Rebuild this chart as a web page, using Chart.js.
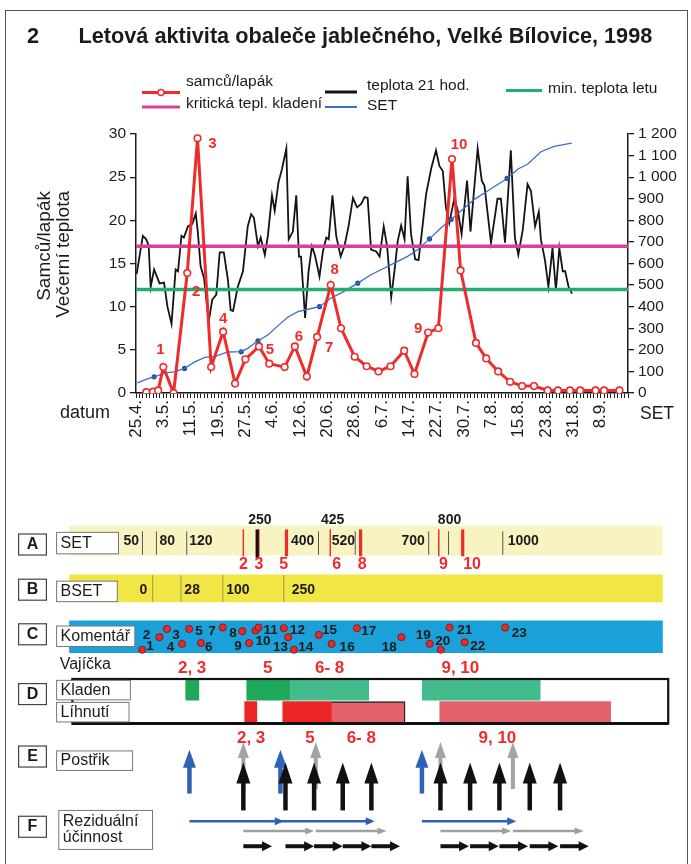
<!DOCTYPE html>
<html lang="cs">
<head>
<meta charset="utf-8">
<title>Letová aktivita obaleče jablečného, Velké Bílovice, 1998</title>
<script src="https://cdn.jsdelivr.net/npm/chart.js@4.4.1/dist/chart.umd.min.js"></script>
<style>
  html, body { margin: 0; padding: 0; background: #fff; }
  body { position: relative; width: 691px; height: 864px; overflow: hidden; }
  canvas { position: absolute; left: 0; }
  #flight { top: 0; }
  #diagram { top: 470px; }
  .frame { position: absolute; left: 5px; top: 10px; width: 683px; height: 900px; border: 1.5px solid #555; box-sizing: border-box; pointer-events: none; }
</style>
</head>
<body>
<div class="frame"></div>
<canvas id="flight" width="691" height="470"></canvas>
<canvas id="diagram" width="691" height="394"></canvas>
<script>
// ---------- top chart data (days counted from 25.4.) ----------
const figureNo = '2';
const titleText = 'Letová aktivita obaleče jablečného, Velké Bílovice, 1998';
const xAxisName = 'datum';
const yAxisNames = ['Samců/lapák', 'Večerní teplota'];
const y2AxisName = 'SET';

const dateLabels = ['25.4.', '3.5.', '11.5.', '19.5.', '27.5.', '4.6.', '12.6.', '20.6.', '28.6.',
  '6.7.', '14.7.', '22.7.', '30.7.', '7.8.', '15.8.', '23.8.', '31.8.', '8.9.'];
const dateStep = 8;
const dayMax = 144;

// samců/lapák
const trapDays = [3, 5, 6.5, 8, 11, 15, 18, 22, 25.5, 29, 32, 36, 39, 43.5, 46.5, 50, 53, 57, 60, 64,
  67.5, 71, 74.5, 78.5, 81.5, 85.5, 88.5, 92.5, 95, 99.5, 102.5, 106, 109.5, 113, 116.5, 120.5, 123.5, 127, 130, 134.5,
  137, 141.5];
const trapMales = [0.1, 0.15, 0.3, 3.0, 0, 13.9, 29.5, 3.0, 7.1, 1.1, 3.9, 5.4, 3.4, 3.0, 5.4, 1.9, 6.5, 12.5, 7.5, 4.2,
  3.1, 2.5, 3.1, 4.9, 2.2, 7.0, 7.5, 27.1, 14.2, 5.8, 4.0, 2.5, 1.3, 0.8, 0.8, 0.3, 0.3, 0.3, 0.3, 0.3,
  0.3, 0.3];
const peakLabels = ['1', '2', '3', '4', '5', '6', '7', '8', '9', '10'];
const peakIndex = [3, 5, 6, 8, 11, 14, 16, 17, 25, 27];

// teplota 21 hod.
const tempDays = [0.2, 2, 3, 3.7, 4.3, 5.3, 6.2, 6.9, 8.2, 9.2,
  10.4, 11.6, 12.3, 13.3, 14, 15.2, 16.5, 17.5, 18.1, 18.9,
  19.9, 21.3, 22.3, 23.5, 24.5, 25.7, 26.9, 27.7, 28.4, 29.8,
  31.3, 32.7, 33.7, 34.5, 35.7, 36.5, 37.7, 38.6, 39.8, 40.6,
  41.7, 42.7, 44, 44.7, 45.9, 46.9, 47.7, 48.3, 49.5, 50.5,
  51.5, 52.4, 53.7, 54.7, 55.7, 56.4, 57.5, 58.6, 59.9, 61,
  62.2, 63.5, 64.7, 65.9, 66.9, 67.8, 68.8, 70.3, 71.3, 72.5,
  73.5, 74.7, 75.7, 76.6, 77.6, 78.6, 79.5, 80.5, 81.7, 82.7,
  83.6, 84.9, 86.4, 87.8, 88.8, 89.8, 90.7, 91.7, 93.2, 94.2,
  95.3, 96.9, 97.9, 100, 101.2, 102, 103.9, 105.8, 106.8, 108,
  109.7, 110.9, 111.9, 113.2, 114.6, 115.6, 116.8, 117.9, 118.5, 119.7,
  120.7, 121.9, 122.9, 123.9, 124.9, 125.6, 126.6, 127.6];
const tempValues = [13.8, 18.2, 17.8, 17.1, 12.3, 14.3, 13.4, 12.7, 12.8, 10.0,
  8.0, 14.3, 14.1, 18.2, 18.0, 19.3, 19.6, 20.8, 18.6, 14.7,
  13.3, 8.3, 10.8, 11.4, 16.3, 16.3, 13.1, 9.6, 9.5, 12.3,
  14.1, 19.3, 20.7, 20.3, 17.0, 18.0, 16.0, 18.2, 22.9, 21.1,
  24.4, 25.9, 28.3, 17.8, 18.7, 22.9, 15.8, 15.8, 8.7, 14.1,
  17.0, 15.9, 13.5, 16.4, 18.0, 17.8, 22.9, 18.2, 15.8, 17.0,
  19.3, 22.6, 21.5, 21.9, 22.7, 22.6, 16.6, 16.4, 15.8, 19.3,
  17.0, 11.1, 14.3, 17.6, 19.4, 17.8, 25.1, 18.4, 15.5, 15.4,
  18.4, 23.0, 26.0, 28.1, 26.3, 25.7, 21.5, 19.7, 22.6, 21.1,
  18.4, 24.6, 18.7, 28.3, 24.6, 24.0, 17.4, 22.5, 22.5, 17.4,
  28.1, 18.0, 16.0, 18.9, 24.2, 23.4, 19.3, 21.0, 17.8, 15.4,
  12.3, 16.8, 11.9, 16.8, 14.1, 14.1, 12.3, 11.5];

// SET (right axis)
const setDays = [0.4, 3.5, 5.5, 8.4, 11.3, 14.2, 17.2, 20.1, 23.2, 26.9,
  30.8, 32.7, 35.7, 38.6, 41.5, 44.4, 47.4, 50.3, 53.7, 57.1,
  60.0, 64.9, 68.8, 71.7, 75.6, 79.5, 82.5, 85.9, 89.3, 92.2,
  95.1, 99.0, 102.9, 108.6, 111.7, 114.6, 118.5, 122.4, 127.5];
const setValues = [47, 67, 75, 93, 98, 114, 144, 165, 170, 190,
  192, 207, 242, 269, 311, 351, 377, 388, 400, 440,
  463, 509, 548, 571, 602, 633, 665, 714, 766, 804,
  843, 897, 936, 994, 1037, 1060, 1118, 1143, 1158];
const setDotDays = [5.3, 14.2, 30.8, 35.7, 53.7, 64.9, 85.9, 92.2, 108.6];
const setDotValues = [75, 114, 191, 242, 400, 509, 714, 804, 994];

const critTemp = 17;
const minFlightTemp = 12;

// ---------- bottom diagram data (same day axis) ----------
const setBarValues = ['50', '80', '120', '400', '520', '700', '1000'];
const setBarValueDays = [-2.3, 8.4, 18.4, 48.6, 60.7, 81.4, 114.1];
const setBarMarks = ['250', '425', '800'];
const setBarMarkDays = [35.9, 57.5, 92.2];
const setBarDividers = [1.05, 5.2, 14.2, 53.3, 64.2, 86.0, 91.9, 108.0];
const set250Day = 35.1;
const generations = ['2', '3', '5', '6', '8', '9', '10'];
const generationDays = [31.0, 35.6, 43.8, 56.8, 65.8, 89.0, 96.1];
const generationBold = [false, false, true, false, true, false, true];
const generationLabelDays = [31.0, 35.6, 43.0, 58.7, 66.3, 90.4, 98.9];

const bsetValues = ['0', '28', '100', '250'];
const bsetValueDays = [1.35, 15.8, 29.4, 48.8];
const bsetDividers = [4.1, 12.5, 24.9, 43.0];

const noteDays = [0.97, 6.1, 8.3, 12.8, 14.9, 18.4, 24.9, 30.7, 32.7, 34.6, 35.5, 43.0, 44.3, 46.0, 53.4, 57.2,
  64.7, 77.9, 86.3, 89.6, 92.2, 96.7, 108.7];
const noteLanes = [3, 1.3, 0.2, 2.2, 0.2, 2.1, 0, 0.5, 2.1, 0.4, 0, 0.1, 1.3, 3, 1, 2.2, 0.1, 1.3, 2.2, 3, 0, 2, 0];
const noteLabelDays = [3.3, 2.25, 11.0, 9.4, 17.8, 20.7, 21.7, 27.9, 29.4, 36.8, 39.1, 47.1, 42.0, 49.5, 56.6, 61.8,
  68.2, 74.3, 84.4, 90.2, 96.7, 100.6, 112.9];
const noteLabelLanes = [2.6, 1, 1, 2.65, 0.55, 2.7, 0.45, 0.8, 2.55, 1.85, 0.35, 0.35, 2.65, 2.65, 0.35, 2.7,
  0.55, 2.65, 1, 1.85, 0.35, 2.5, 0.8];

const eggGroups = ['2, 3', '5', '6- 8', '9, 10'];
const layingStart = [13.9, 32.0, 44.9, 84.1];
const layingEnd = [17.8, 44.9, 68.2, 119.1];
const layingLabelDays = [15.8, 38.2, 56.6, 95.4];
const hatchStart = [31.4, 42.7, 57.2, 89.3];
const hatchEnd = [35.0, 57.2, 79.0, 140.0];
const hatchLabelDays = [33.3, 50.8, 66.0, 106.4];

const sprayBlueDays = [15, 42, 84];
const sprayGrayDays = [31, 52.5, 89.5, 111];
const sprayBlackDays = [31, 43.5, 52, 60.5, 69, 89.5, 98.3, 107, 116, 125];
const residualDays = { blue: 28, gray: 21, black: 8.5 };

// ---------- styles ----------
const FONT = '"Liberation Sans", Arial, Helvetica, sans-serif';
const INK = '#1b1b1b';
const RED = '#ee2c2c';
const MAGENTA = '#d8409a';
const GREEN = '#22ad72';
const BLUE = '#3a70c4';
const BLUE_DOT = '#234f9e';

Chart.defaults.font.family = FONT;
Chart.defaults.color = INK;

const pts = (xs, ys) => xs.map((x, i) => ({ x, y: ys[i] }));
const spaced = v => String(v).replace(/\B(?=(\d{3})+(?!\d))/g, ' ');

function line(ctx, x0, y0, x1, y1) {
  ctx.beginPath();
  ctx.moveTo(x0, y0);
  ctx.lineTo(x1, y1);
  ctx.stroke();
}

// legend placement (two rows, three columns like the original)
const legendLayout = [
  { ds: 0, x: 142, y: 92.5, len: 38, w: 3, tx: 186, ty: 82, marker: true },
  { ds: 2, x: 142, y: 107, len: 38, w: 3, tx: 186, ty: 103.5 },
  { ds: 1, x: 325, y: 92, len: 32, w: 3, tx: 367, ty: 85.5 },
  { ds: 4, x: 325, y: 107, len: 32, w: 2, tx: 367, ty: 106 },
  { ds: 3, x: 506, y: 90.5, len: 36, w: 3, tx: 548, ty: 88.5 }
];
const peakOffsets = [[-3, -17], [9, 19], [15, 6], [0, -13], [11, 3], [4, -10], [12, 11], [4, -15], [-10, -4], [7, -14]];

const flightDecor = {
  id: 'flightDecor',
  afterDraw(chart) {
    const { ctx } = chart;
    const sets = chart.data.datasets;
    ctx.save();
    ctx.textBaseline = 'middle';
    ctx.textAlign = 'left';
    ctx.fillStyle = INK;
    ctx.font = `bold 21.7px ${FONT}`;
    ctx.fillText(figureNo, 27, 37);
    ctx.fillText(titleText, 78.5, 37);

    ctx.font = `15.5px ${FONT}`;
    legendLayout.forEach(item => {
      const ds = sets[item.ds];
      ctx.strokeStyle = ds.borderColor;
      ctx.lineWidth = item.w;
      line(ctx, item.x, item.y, item.x + item.len, item.y);
      if (item.marker) {
        ctx.beginPath();
        ctx.arc(item.x + item.len / 2, item.y, 3, 0, Math.PI * 2);
        ctx.fillStyle = '#fff';
        ctx.fill();
        ctx.lineWidth = 1.5;
        ctx.stroke();
      }
      ctx.fillStyle = INK;
      ctx.fillText(ds.label, item.tx, item.ty);
    });

    // left axis names, top-aligned and reading upwards
    ctx.font = `19px ${FONT}`;
    yAxisNames.forEach((t, k) => {
      ctx.save();
      ctx.translate(45 + k * 18.5, 191);
      ctx.rotate(-Math.PI / 2);
      ctx.textAlign = 'right';
      ctx.fillText(t, 0, 0);
      ctx.restore();
    });

    // generation numbers at the flight peaks
    const meta = chart.getDatasetMeta(0);
    ctx.font = `bold 15px ${FONT}`;
    ctx.fillStyle = RED;
    ctx.textAlign = 'center';
    peakIndex.forEach((idx, k) => {
      const p = meta.data[idx];
      ctx.fillText(peakLabels[k], p.x + peakOffsets[k][0], p.y + peakOffsets[k][1]);
    });

    ctx.fillStyle = INK;
    ctx.font = `18px ${FONT}`;
    ctx.fillText(xAxisName, 85, 413);
    ctx.font = `17.5px ${FONT}`;
    ctx.fillText(y2AxisName, 657, 414);
    ctx.restore();
  }
};

const flightChart = new Chart(document.getElementById('flight'), {
  type: 'line',
  data: {
    datasets: [
      { label: 'samců/lapák', data: pts(trapDays, trapMales), yAxisID: 'y', borderColor: RED, borderWidth: 3,
        pointRadius: 3.3, pointBackgroundColor: '#fff', pointBorderColor: RED, pointBorderWidth: 1.6, order: 1 },
      { label: 'teplota 21 hod.', data: pts(tempDays, tempValues), yAxisID: 'y', borderColor: '#141414',
        borderWidth: 1.8, pointRadius: 0, order: 6 },
      { label: 'kritická tepl. kladení', data: pts([0, dayMax], [critTemp, critTemp]), yAxisID: 'y',
        borderColor: MAGENTA, borderWidth: 3.5, pointRadius: 0, order: 3 },
      { label: 'min. teplota letu', data: pts([0, dayMax], [minFlightTemp, minFlightTemp]), yAxisID: 'y',
        borderColor: GREEN, borderWidth: 3.5, pointRadius: 0, order: 3 },
      { label: 'SET', data: pts(setDays, setValues), yAxisID: 'y2', borderColor: BLUE, borderWidth: 1.3,
        pointRadius: 0, order: 4 },
      { label: 'SET body', data: pts(setDotDays, setDotValues), yAxisID: 'y2', showLine: false,
        pointRadius: 2.6, pointBackgroundColor: BLUE_DOT, pointBorderWidth: 0, order: 4 }
    ]
  },
  options: {
    responsive: false,
    animation: false,
    events: [],
    layout: { padding: { top: 134, left: 0, right: 0, bottom: 0 } },
    elements: { line: { tension: 0 } },
    plugins: { legend: { display: false }, tooltip: { enabled: false } },
    scales: {
      x: {
        type: 'linear', min: 0, max: dayMax,
        ticks: {
          stepSize: 1, autoSkip: false, minRotation: 90, maxRotation: 90, padding: 2,
          font: { size: 17 }, color: INK,
          callback: v => (v % dateStep === 0 && dateLabels[v / dateStep]) || ''
        },
        grid: { drawOnChartArea: false, tickLength: 5, color: INK, lineWidth: 1 },
        border: { color: INK, width: 1.5 },
        afterFit: s => { s.height = 77; }
      },
      y: {
        position: 'left', min: 0, max: 30,
        ticks: { stepSize: 5, autoSkip: false, padding: 4, font: { size: 15.5 }, color: INK },
        grid: { drawOnChartArea: false, tickLength: 6, color: INK, lineWidth: 1.3 },
        border: { color: INK, width: 1.5 },
        afterFit: s => { s.width = 136; }
      },
      y2: {
        position: 'right', min: 0, max: 1200,
        ticks: { stepSize: 100, autoSkip: false, padding: 4, font: { size: 15.5 }, color: INK, callback: spaced },
        grid: { drawOnChartArea: false, tickLength: 6, color: INK, lineWidth: 1.3 },
        border: { color: INK, width: 1.5 },
        afterFit: s => { s.width = 63; }
      }
    }
  },
  plugins: [flightDecor]
});

// ---------- bottom diagram: same day axis as the chart above ----------
const area = flightChart.chartArea;
const dayPx = (area.right - area.left) / dayMax;
const canvasW = 691, canvasH = 394;

const bandSpan = [-20.6, 155.4];
const frameSpan = [-19.76, 157.1];
const rowY = { A: 67.5, B: 116.4, C: 166, laying: 220.7, hatch: 243 };
const rowThick = { A: 29, B: 27.3, C: 31.7, laying: 20, hatch: 20.6 };
const laneY = lane => 156.5 + lane * 7.6;

const letterBoxes = [['A', 60.7], ['B', 107], ['C', 152.7], ['D', 214], ['E', 278], ['F', 350]];
const nameBoxes = [
  { text: ['SET'], x0: 56.6, x1: 118.5, y0: 59, y1: 81 },
  { text: ['BSET'], x0: 56.6, x1: 117.3, y0: 109, y1: 130 },
  { text: ['Komentář'], x0: 56.6, x1: 134.8, y0: 155, y1: 176 },
  { text: ['Kladen'], x0: 56.6, x1: 130.4, y0: 210.7, y1: 230.7 },
  { text: ['Líhnutí'], x0: 56.6, x1: 129, y0: 233.3, y1: 253.3 },
  { text: ['Postřik'], x0: 56.6, x1: 132.6, y0: 283, y1: 303 },
  { text: ['Reziduální', 'účinnost'], x0: 58.8, x1: 152.5, y0: 344, y1: 384 }
];
const sprayArrow = {
  blue: { color: '#2f62b6', tip: 281.7, base: 326.7, shaft: 4.5, headW: 13, headH: 18 },
  gray: { color: '#a3a3a3', tip: 274, base: 322, shaft: 4, headW: 11, headH: 16 },
  black: { color: '#111', tip: 295, base: 344, shaft: 4.5, headW: 14, headH: 21 }
};
const residualArrow = {
  blue: { color: '#2f62b6', y: 355, width: 2.5, headL: 9, headW: 8 },
  gray: { color: '#a0a0a0', y: 365, width: 2.5, headL: 9, headW: 7 },
  black: { color: '#111', y: 380.7, width: 4, headL: 10, headW: 10 }
};

function upArrow(ctx, x, tip, base, s) {
  ctx.fillStyle = s.color;
  ctx.fillRect(x - s.shaft / 2, tip + s.headH - 2, s.shaft, base - tip - s.headH + 2);
  ctx.beginPath();
  ctx.moveTo(x, tip);
  ctx.lineTo(x + s.headW / 2, tip + s.headH);
  ctx.lineTo(x - s.headW / 2, tip + s.headH);
  ctx.closePath();
  ctx.fill();
}

function rightArrow(ctx, x0, x1, y, s) {
  ctx.strokeStyle = s.color;
  ctx.lineWidth = s.width;
  line(ctx, x0, y, x1 - s.headL + 1, y);
  ctx.fillStyle = s.color;
  ctx.beginPath();
  ctx.moveTo(x1, y);
  ctx.lineTo(x1 - s.headL, y - s.headW / 2);
  ctx.lineTo(x1 - s.headL, y + s.headW / 2);
  ctx.closePath();
  ctx.fill();
}

const diagramDecor = {
  id: 'diagramDecor',
  afterDatasetsDraw(chart) {
    const { ctx } = chart;
    const X = d => chart.scales.x.getPixelForValue(d);
    const Y = v => chart.scales.y.getPixelForValue(v);
    const aTop = rowY.A - rowThick.A / 2, aBot = rowY.A + rowThick.A / 2;
    const bTop = rowY.B - rowThick.B / 2, bBot = rowY.B + rowThick.B / 2;
    ctx.save();
    ctx.textBaseline = 'middle';
    ctx.textAlign = 'center';

    // A: SET bar
    ctx.strokeStyle = '#555';
    ctx.lineWidth = 1;
    setBarDividers.forEach(d => line(ctx, X(d), Y(aTop + 5), X(d), Y(aBot)));
    generationDays.forEach((d, i) => {
      ctx.strokeStyle = RED;
      ctx.lineWidth = generationBold[i] ? 3.2 : 1.5;
      line(ctx, X(d), Y(aTop + 3), X(d), Y(aBot + 1.5));
    });
    ctx.strokeStyle = '#111';
    ctx.lineWidth = 3.2;
    line(ctx, X(set250Day), Y(aTop + 3), X(set250Day), Y(aBot + 3));
    ctx.fillStyle = INK;
    ctx.font = `bold 14px ${FONT}`;
    setBarValues.forEach((t, i) => ctx.fillText(t, X(setBarValueDays[i]), Y(rowY.A + 1)));
    setBarMarks.forEach((t, i) => ctx.fillText(t, X(setBarMarkDays[i]), Y(aTop - 6.5)));
    ctx.fillStyle = RED;
    ctx.font = `bold 16px ${FONT}`;
    generations.forEach((t, i) => ctx.fillText(t, X(generationLabelDays[i]), Y(aBot + 10)));

    // B: BSET bar
    ctx.strokeStyle = '#9d9650';
    ctx.lineWidth = 1;
    bsetDividers.forEach(d => line(ctx, X(d), Y(bTop), X(d), Y(bBot)));
    ctx.fillStyle = INK;
    ctx.font = `bold 14px ${FONT}`;
    bsetValues.forEach((t, i) => ctx.fillText(t, X(bsetValueDays[i]), Y(rowY.B + 1.6)));

    // C: comment numbers
    ctx.font = `bold 13.5px ${FONT}`;
    noteLabelDays.forEach((d, i) => ctx.fillText(String(i + 1), X(d), Y(laneY(noteLabelLanes[i]))));

    // D: frame round laying / hatching
    ctx.strokeStyle = '#111';
    ctx.lineWidth = 2.2;
    ctx.strokeRect(X(frameSpan[0]), Y(209.3), X(frameSpan[1]) - X(frameSpan[0]), Y(255) - Y(209.3));
    ctx.lineWidth = 3;
    line(ctx, X(frameSpan[0]), Y(255), X(frameSpan[1]), Y(255));

    // row letters and names
    letterBoxes.forEach(([t, top]) => {
      ctx.fillStyle = '#fff';
      ctx.fillRect(18.6, Y(top), 27.8, 21);
      ctx.strokeStyle = '#444';
      ctx.lineWidth = 1.2;
      ctx.strokeRect(18.6, Y(top), 27.8, 21);
      ctx.fillStyle = INK;
      ctx.font = `bold 16px ${FONT}`;
      ctx.textAlign = 'center';
      ctx.fillText(t, 32.5, Y(top + 10.8));
    });
    nameBoxes.forEach(b => {
      ctx.fillStyle = '#fff';
      ctx.fillRect(b.x0, Y(b.y0), b.x1 - b.x0, Y(b.y1) - Y(b.y0));
      ctx.strokeStyle = '#777';
      ctx.lineWidth = 1;
      ctx.strokeRect(b.x0, Y(b.y0), b.x1 - b.x0, Y(b.y1) - Y(b.y0));
      ctx.fillStyle = INK;
      ctx.font = `16px ${FONT}`;
      ctx.textAlign = 'left';
      const mid = (b.y0 + b.y1) / 2;
      b.text.forEach((t, k) => {
        const yy = b.text.length === 1 ? mid : b.y0 + 11 + k * 17;
        ctx.fillText(t, b.x0 + 4, Y(yy));
      });
    });

    // eggs
    ctx.fillStyle = INK;
    ctx.font = `16px ${FONT}`;
    ctx.textAlign = 'left';
    ctx.fillText('Vajíčka', 59.7, Y(195));
    ctx.fillStyle = RED;
    ctx.font = `bold 17px ${FONT}`;
    ctx.textAlign = 'center';
    eggGroups.forEach((t, i) => {
      ctx.fillText(t, X(layingLabelDays[i]), Y(198));
      ctx.fillText(t, X(hatchLabelDays[i]), Y(270));
    });

    // E: sprays
    const sprays = { blue: sprayBlueDays, gray: sprayGrayDays, black: sprayBlackDays };
    ['blue', 'gray', 'black'].forEach(k => {
      const s = sprayArrow[k];
      sprays[k].forEach(d => upArrow(ctx, X(d), Y(s.tip), Y(s.base), s));
    });

    // F: residual efficacy
    ['blue', 'gray', 'black'].forEach(k => {
      const s = residualArrow[k];
      sprays[k].forEach(d => rightArrow(ctx, X(d), X(d + residualDays[k]), Y(s.y), s));
    });
    ctx.restore();
  }
};

new Chart(document.getElementById('diagram'), {
  type: 'bar',
  data: {
    datasets: [
      { data: [{ x: bandSpan, y: rowY.A }], backgroundColor: '#f8f4c2', barThickness: rowThick.A, stack: 'rows' },
      { data: [{ x: bandSpan, y: rowY.B }], backgroundColor: '#f0e644', barThickness: rowThick.B, stack: 'rows' },
      { data: [{ x: bandSpan, y: rowY.C }], backgroundColor: '#1ba1da', barThickness: rowThick.C, stack: 'rows' },
      { label: 'Kladen', data: layingStart.map((s, i) => ({ x: [s, layingEnd[i]], y: rowY.laying })),
        backgroundColor: ['#1fa95b', '#1fa95b', '#43bb8d', '#43bb8d'], barThickness: rowThick.laying, stack: 'rows' },
      { label: 'Líhnutí', data: hatchStart.map((s, i) => ({ x: [s, hatchEnd[i]], y: rowY.hatch })),
        backgroundColor: ['#ec2626', '#ec2626', '#e4616d', '#e4616d'], barThickness: rowThick.hatch, stack: 'rows',
        borderColor: '#222', borderSkipped: false,
        borderWidth: c => c.dataIndex === 2 ? { top: 1.5, right: 1.5 } : 0 },
      { type: 'scatter', label: 'Komentář', data: noteDays.map((d, i) => ({ x: d, y: laneY(noteLanes[i]) })),
        pointRadius: 3.6, pointBackgroundColor: '#e62a2a', pointBorderColor: '#7a1212', pointBorderWidth: 0.8, order: -1 }
    ]
  },
  options: {
    indexAxis: 'y',
    responsive: false,
    animation: false,
    events: [],
    layout: { padding: 0 },
    plugins: { legend: { display: false }, tooltip: { enabled: false } },
    scales: {
      x: { type: 'linear', display: false, offset: false, stacked: false,
        min: -area.left / dayPx, max: (canvasW - area.left) / dayPx },
      y: { type: 'linear', display: false, offset: false, reverse: true, min: 0, max: canvasH }
    }
  },
  plugins: [diagramDecor]
});
</script>
</body>
</html>
